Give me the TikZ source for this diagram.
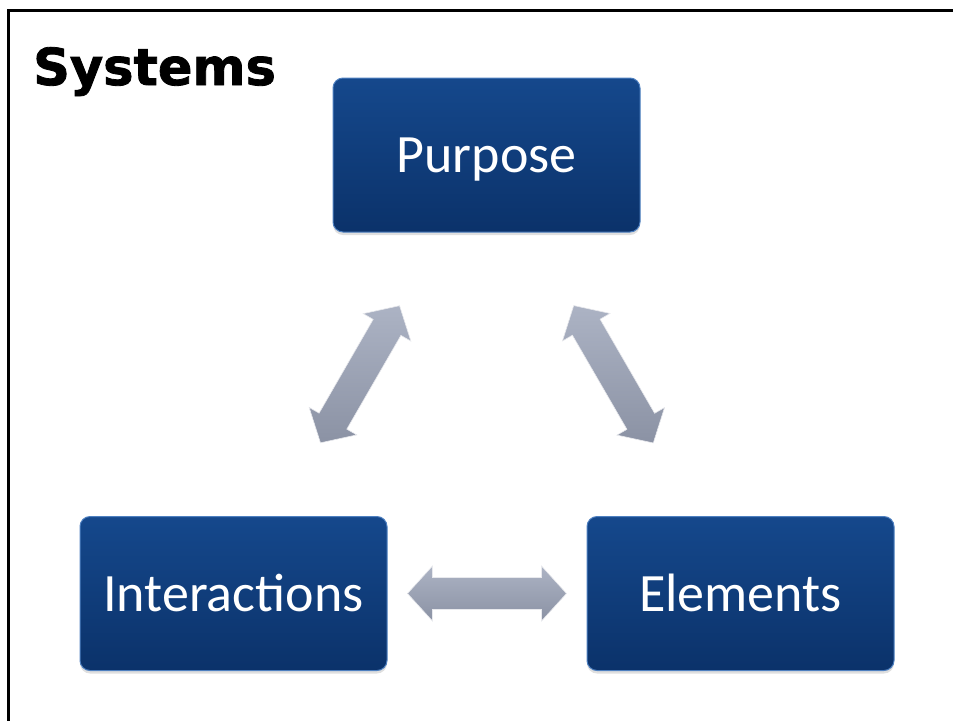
\documentclass[tikz,border=0pt]{standalone}
\usepackage{fontspec}
\setmainfont{Carlito}
\newfontfamily\titlefont{DejaVu Sans}[BoldFeatures={FakeBold=1.6}]
\usetikzlibrary{calc,shadows}
\definecolor{boxtop}{RGB}{21,72,140}
\definecolor{boxbot}{RGB}{11,50,106}
\definecolor{boxrim}{RGB}{78,128,192}
\definecolor{arrtop}{RGB}{172,179,196}
\definecolor{arrbot}{RGB}{139,146,164}
\newcommand\blockarrow[2]{%
	\coordinate (ta) at ($(#1)!174pt!(#2)$);
	\coordinate (tb) at ($(#2)!174pt!(#1)$);
	\coordinate (ha) at ($(ta)!25pt!(tb)$);
	\coordinate (hb) at ($(tb)!25pt!(ta)$);
	\path[arrowfill] (ta) -- ($(ha)!27.5pt!90:(tb)$) -- ($(ha)!16pt!90:(tb)$)
		-- ($(hb)!16pt!-90:(ta)$) -- ($(hb)!27.5pt!-90:(ta)$) -- (tb)
		-- ($(hb)!27.5pt!90:(ta)$) -- ($(hb)!16pt!90:(ta)$)
		-- ($(ha)!16pt!-90:(tb)$) -- ($(ha)!27.5pt!-90:(tb)$) -- cycle;}
\begin{document}
\begin{tikzpicture}[x=1pt,y=-1pt,
		topic/.style={rounded corners=10pt,minimum width=307pt,minimum height=154pt,inner sep=0pt,
			top color=boxtop,bottom color=boxbot,draw=boxrim,line width=1pt,
			drop shadow={shadow xshift=0pt,shadow yshift=-3pt,opacity=.25},
			text=white,font=\fontsize{54}{60}\selectfont,text height=35pt,text depth=0pt},
		arrowfill/.style={top color=arrtop,bottom color=arrbot,draw=white!80!arrbot,line width=.6pt,line join=miter}]
	\useasboundingbox (0,0) rectangle (953,721);
	\draw[line width=3pt](953,10.5)--(8.5,10.5)--(8.5,721);
	\node[anchor=base west,inner sep=0pt,font=\titlefont\bfseries\fontsize{51}{56}\selectfont] (title) at (33,85) {Systems};
	\node[topic] (purp) at (486.5,155) {Purpose};
	\node[topic] (inter) at (233.5,593.5) {Interactions};
	\node[topic] (elem) at (740.5,593.5) {Elements};
	\blockarrow{inter}{purp}
	\blockarrow{purp}{elem}
	\blockarrow{inter}{elem}
\end{tikzpicture}
\end{document}
